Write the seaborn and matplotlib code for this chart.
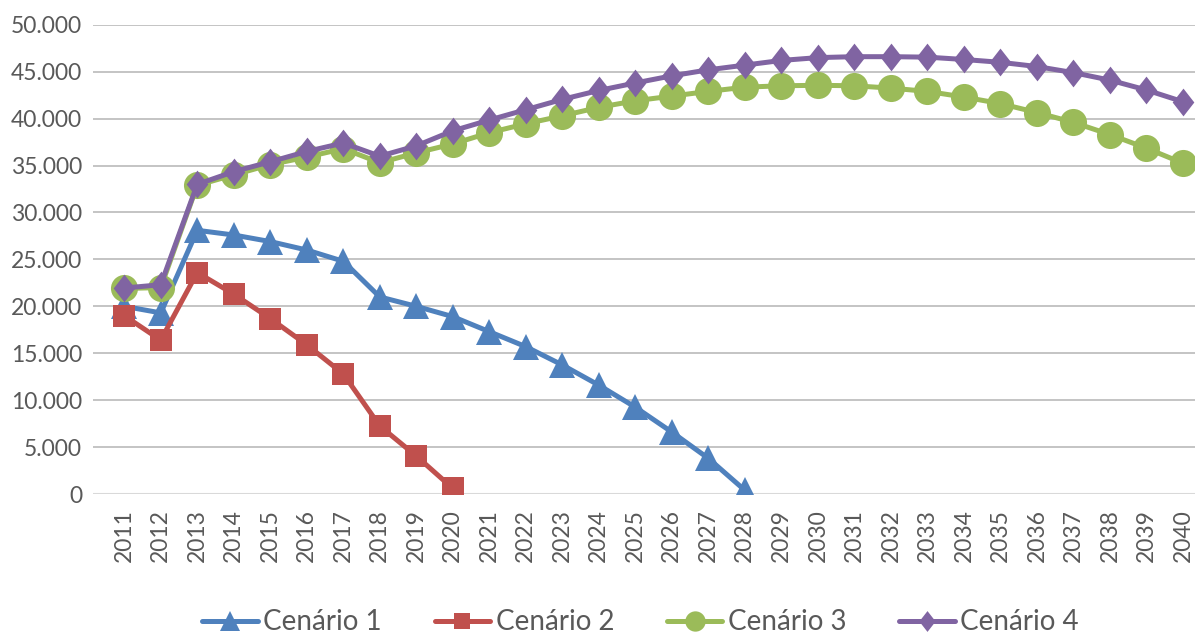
import pandas as pd
import numpy as np
import matplotlib
matplotlib.use("Agg")
import matplotlib.pyplot as plt
from matplotlib.ticker import FuncFormatter
from matplotlib.lines import Line2D
import seaborn as sns

anos = list(range(2011, 2041))

cenario_1 = [20000, 19300, 28100, 27600, 26900, 26000, 24800, 21000, 20000, 18900,
             17300, 15700, 13750, 11600, 9250, 6600, 3800, 400]
cenario_2 = [19000, 16400, 23600, 21300, 18700, 15900, 12800, 7250, 4050, 600]
cenario_3 = [21900, 22000, 32900, 34000, 35100, 35900, 36800, 35300, 36350, 37300,
             38500, 39450, 40300, 41200, 41900, 42400, 42900, 43350, 43500, 43550,
             43500, 43250, 42900, 42300, 41600, 40650, 39600, 38300, 36850, 35250]
cenario_4 = [21950, 22300, 33000, 34350, 35400, 36500, 37400, 36000, 37100, 38700,
             39850, 40950, 42050, 43000, 43800, 44560, 45200, 45700, 46200, 46500,
             46600, 46600, 46550, 46300, 46000, 45550, 44900, 44100, 43050, 41800]

nomes = ["Cenário 1", "Cenário 2", "Cenário 3", "Cenário 4"]
cores = ["#4F81BD", "#C0504D", "#9BBB59", "#8064A2"]
# losango um pouco mais alto do que largo, como no Excel
losango = [(0, 1), (0.78, 0), (0, -1), (-0.78, 0), (0, 1)]
marcadores = ["^", "s", "o", losango]
tamanhos = [19, 16, 19.5, 20]

frames = []
for nome, vals in zip(nomes, [cenario_1, cenario_2, cenario_3, cenario_4]):
    frames.append(pd.DataFrame({"ano": anos[:len(vals)], "valor": vals, "cenario": nome}))
df = pd.concat(frames, ignore_index=True)

sns.set_theme(style="white")
plt.rcParams['font.family'] = ['Lato', 'DejaVu Sans']
texto = "#595959"

fig = plt.figure(figsize=(11.95, 6.35), dpi=100)
ax = fig.add_axes([0.078, 0.222, 0.922, 0.739])

sns.lineplot(data=df, x="ano", y="valor", hue="cenario",
             hue_order=nomes, palette=cores, linewidth=3.6,
             legend=False, ax=ax, zorder=3)

for linha, m, ms in zip(ax.lines, marcadores, tamanhos):
    linha.set_marker(m)
    linha.set_markersize(ms)
    linha.set_markeredgewidth(0)
    linha.set_solid_joinstyle("round")

ax.set_xlim(2010.15, 2040.33)
ax.set_ylim(0, 50000)
ax.set_yticks(np.arange(0, 50001, 5000))
ax.yaxis.set_major_formatter(FuncFormatter(lambda v, p: f"{int(v):,}".replace(",", ".")))
ax.set_xticks(anos)
ax.set_xticklabels([str(a) for a in anos], rotation=90)
ax.tick_params(axis="both", colors=texto, labelsize=16.5, length=0, pad=8)
ax.tick_params(axis="x", pad=11)
for lbl in ax.get_xticklabels() + ax.get_yticklabels():
    lbl.set_color(texto)

ax.grid(axis="y", color="#BFBFBF", linewidth=1.3, zorder=0)
ax.grid(axis="x", visible=False)
ax.set_axisbelow(True)
for s in ax.spines.values():
    s.set_visible(False)
ax.axhline(0, color="#D9D9D9", linewidth=1.5, zorder=1)
ax.set_xlabel("")
ax.set_ylabel("")

handles = [Line2D([0], [0], color=c, marker=m, markersize=ms * 0.75, linewidth=3.6,
                  markeredgewidth=0) for c, m, ms in zip(cores, marcadores, tamanhos)]
fig.legend(handles, nomes, loc="lower center", bbox_to_anchor=(0.536, -0.04), ncol=4,
           frameon=False, fontsize=20, handlelength=2.0, columnspacing=1.9,
           handletextpad=0.2, labelcolor=texto)

fig.savefig("out.png", dpi=100)
